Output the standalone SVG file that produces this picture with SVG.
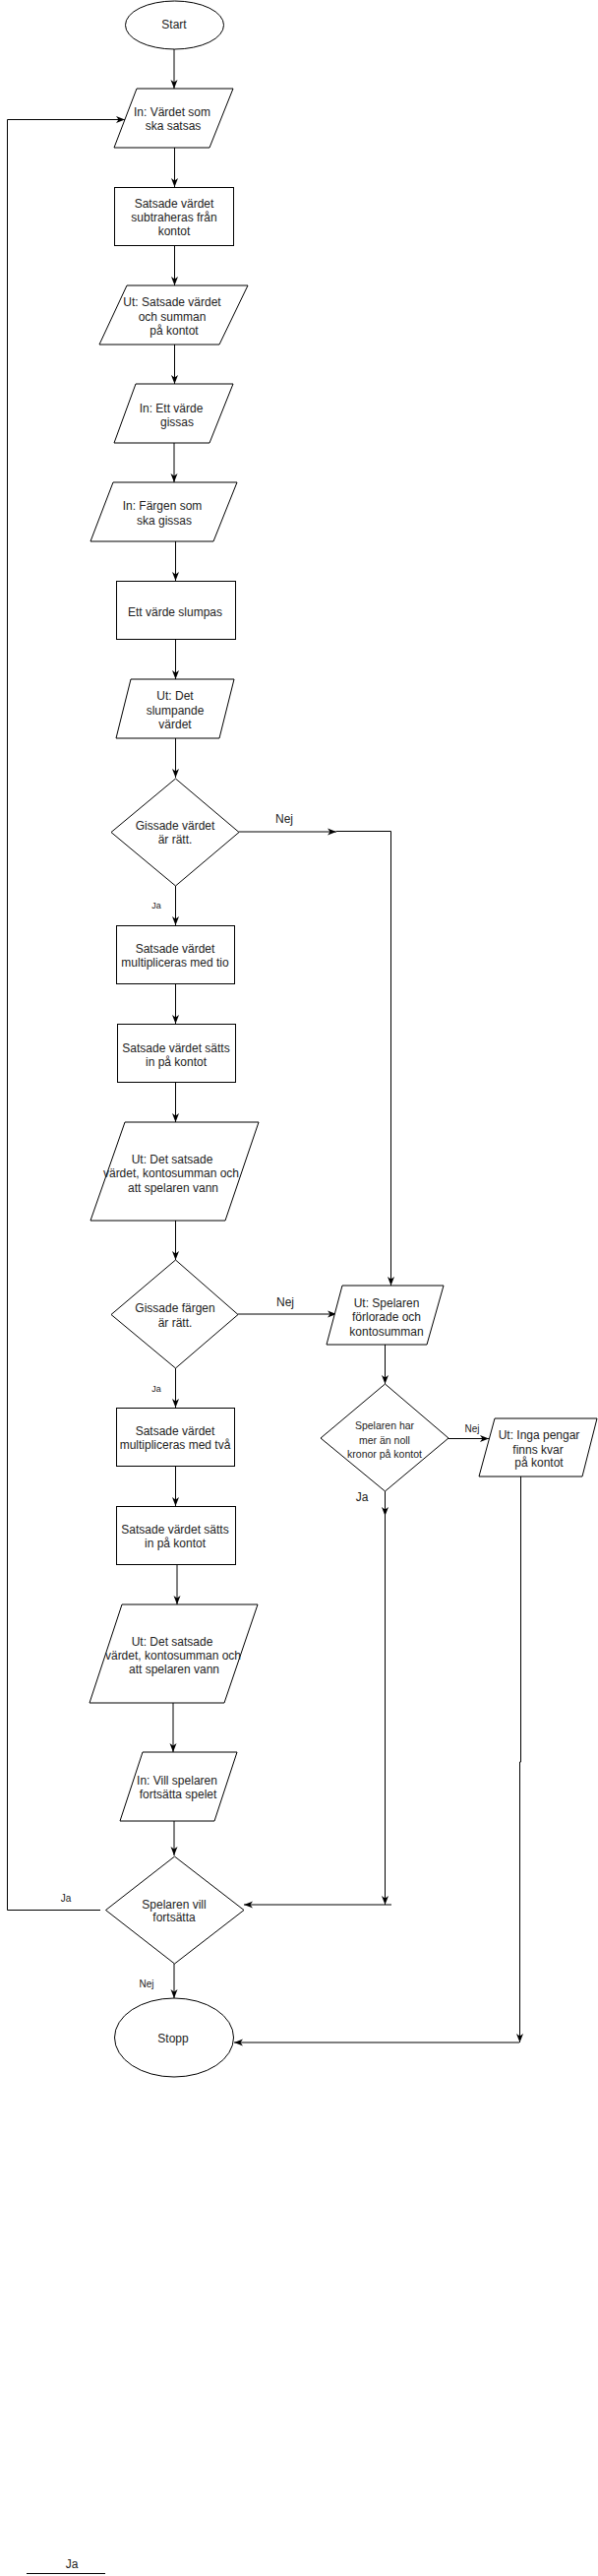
<svg xmlns="http://www.w3.org/2000/svg" width="608" height="2617" viewBox="0 0 608 2617">
<style>
.s{fill:#fff;stroke:#000;stroke-width:1}
.t{font-family:"Liberation Sans",Arial,sans-serif;font-size:12px;fill:#222;text-anchor:middle}
.sm{font-size:10.5px}
.c{fill:none;stroke:#000;stroke-width:1}
.l{font-family:"Liberation Sans",Arial,sans-serif;fill:#222;text-anchor:middle}
</style>
<defs>
<marker id="a" markerUnits="userSpaceOnUse" markerWidth="10" markerHeight="8" refX="9" refY="4" orient="auto">
<path d="M0,0.5 L9,4 L0,7.5 L2.5,4 Z" fill="#000"/>
</marker>
</defs>
<rect width="608" height="2617" fill="#fff"/>

<g id="connectors">
<path class="c" d="M177,50 V90" marker-end="url(#a)"/>
<path class="c" d="M177.5,150 V190" marker-end="url(#a)"/>
<path class="c" d="M177.5,250 V290" marker-end="url(#a)"/>
<path class="c" d="M177.5,350 V390" marker-end="url(#a)"/>
<path class="c" d="M177,450 V490" marker-end="url(#a)"/>
<path class="c" d="M178.5,550 V590" marker-end="url(#a)"/>
<path class="c" d="M178.5,650 V690" marker-end="url(#a)"/>
<path class="c" d="M178.5,750 V790" marker-end="url(#a)"/>
<path class="c" d="M243,845 H342" marker-end="url(#a)"/>
<path class="c" d="M342,844.5 H397.5 V1306" marker-end="url(#a)"/>
<path class="c" d="M178.5,900 V940" marker-end="url(#a)"/>
<path class="c" d="M178.5,1000 V1040" marker-end="url(#a)"/>
<path class="c" d="M178.5,1100 V1140" marker-end="url(#a)"/>
<path class="c" d="M178.5,1240 V1280" marker-end="url(#a)"/>
<path class="c" d="M242,1335 H342" marker-end="url(#a)"/>
<path class="c" d="M178.5,1390 V1430" marker-end="url(#a)"/>
<path class="c" d="M178.5,1490 V1530" marker-end="url(#a)"/>
<path class="c" d="M180,1590 V1630" marker-end="url(#a)"/>
<path class="c" d="M176,1730 V1780" marker-end="url(#a)"/>
<path class="c" d="M177,1850 V1885" marker-end="url(#a)"/>
<path class="c" d="M177,1995 V2030" marker-end="url(#a)"/>
<path class="c" d="M102,1940.5 H7.5 V121.5 H127" marker-end="url(#a)"/>
<path class="c" d="M391.5,1366 V1406" marker-end="url(#a)"/>
<path class="c" d="M456,1461.5 H497" marker-end="url(#a)"/>
<path class="c" d="M391.5,1515 V1540" marker-end="url(#a)"/>
<path class="c" d="M391.5,1540 V1935" marker-end="url(#a)"/>
<path class="c" d="M398,1935 H248" marker-end="url(#a)"/>
<path class="c" d="M529.5,1500 V1790 H528.5 V2075" marker-end="url(#a)"/>
<path class="c" d="M528,2075 H238" marker-end="url(#a)"/>
<path class="c" d="M27,2614.5 H107"/>
</g>

<g id="start"><ellipse class="s" cx="177.5" cy="25.5" rx="50" ry="24.5"/><text class="t" x="177" y="29">Start</text></g>

<g id="in-varde"><path class="s" d="M139,90 H237 L213,150 H116 Z"/><text class="t" x="175" y="118">In: Värdet som</text><text class="t" x="176" y="132">ska satsas</text></g>

<g id="subtraheras"><rect class="s" x="116.5" y="190.5" width="121" height="59"/><text class="t" x="177" y="211">Satsade värdet</text><text class="t" x="177" y="225">subtraheras från</text><text class="t" x="177" y="239">kontot</text></g>

<g id="ut-satsade"><path class="s" d="M129,290 H252 L223,350 H101 Z"/><text class="t" x="175" y="311">Ut: Satsade värdet</text><text class="t" x="175" y="326">och summan</text><text class="t" x="177" y="340">på kontot</text></g>

<g id="in-gissas"><path class="s" d="M138,390 H237 L213,450 H116 Z"/><text class="t" x="174" y="419">In: Ett värde</text><text class="t" x="180" y="433">gissas</text></g>

<g id="in-fargen"><path class="s" d="M115,490 H241 L217,550 H92 Z"/><text class="t" x="165" y="518">In: Färgen som</text><text class="t" x="167" y="533">ska gissas</text></g>

<g id="slumpas"><rect class="s" x="118.5" y="590.5" width="121" height="59"/><text class="t" x="178" y="626">Ett värde slumpas</text></g>

<g id="ut-slump"><path class="s" d="M133,690 H238 L223,750 H118 Z"/><text class="t" x="178" y="711">Ut: Det</text><text class="t" x="178" y="726">slumpande</text><text class="t" x="178" y="740">värdet</text></g>

<g id="d-vardet"><path class="s" d="M178.5,791 L243,845.5 L178.5,900 L113,845.5 Z"/><text class="t" x="178" y="843">Gissade värdet</text><text class="t" x="178" y="857">är rätt.</text></g>

<g id="mult-tio"><rect class="s" x="118.5" y="940.5" width="120" height="59"/><text class="t" x="178" y="968">Satsade värdet</text><text class="t" x="178" y="982">multipliceras med tio</text></g>

<g id="satts1"><rect class="s" x="119.5" y="1040.5" width="120" height="59"/><text class="t" x="179" y="1069">Satsade värdet sätts</text><text class="t" x="179" y="1083">in på kontot</text></g>

<g id="ut-vann1"><path class="s" d="M127,1140 H263 L229,1240 H92 Z"/><text class="t" x="175" y="1182">Ut: Det satsade</text><text class="t" x="174" y="1196">värdet, kontosumman och</text><text class="t" x="176" y="1211">att spelaren vann</text></g>

<g id="d-fargen"><path class="s" d="M178.5,1280 L242,1335.5 L178.5,1390 L113,1335.5 Z"/><text class="t" x="178" y="1333">Gissade färgen</text><text class="t" x="178" y="1348">är rätt.</text></g>

<g id="forlorade"><path class="s" d="M348,1306 H451 L434,1366 H332 Z"/><text class="t" x="393" y="1328">Ut: Spelaren</text><text class="t" x="393" y="1342">förlorade och</text><text class="t" x="393" y="1357">kontosumman</text></g>

<g id="d-noll"><path class="s" d="M391.5,1406 L456,1461 L391.5,1515 L326,1461 Z"/><text class="t sm" x="391" y="1452">Spelaren har</text><text class="t sm" x="391" y="1467">mer än noll</text><text class="t sm" x="391" y="1481">kronor på kontot</text></g>

<g id="inga-pengar"><path class="s" d="M503,1441 H607 L592,1500 H487 Z"/><text class="t" x="548" y="1462">Ut: Inga pengar</text><text class="t" x="547" y="1477">finns kvar</text><text class="t" x="548" y="1490">på kontot</text></g>

<g id="mult-tva"><rect class="s" x="118.5" y="1430.5" width="120" height="59"/><text class="t" x="178" y="1458">Satsade värdet</text><text class="t" x="178" y="1472">multipliceras med två</text></g>

<g id="satts2"><rect class="s" x="118.5" y="1530.5" width="121" height="59"/><text class="t" x="178" y="1558">Satsade värdet sätts</text><text class="t" x="178" y="1572">in på kontot</text></g>

<g id="ut-vann2"><path class="s" d="M124,1630 H262 L228,1730 H91 Z"/><text class="t" x="175" y="1672">Ut: Det satsade</text><text class="t" x="176" y="1686">värdet, kontosumman och</text><text class="t" x="177" y="1700">att spelaren vann</text></g>

<g id="in-fortsatta"><path class="s" d="M145,1780 H241 L218,1850 H122 Z"/><text class="t" x="180" y="1813">In: Vill spelaren</text><text class="t" x="181" y="1827">fortsätta spelet</text></g>

<g id="d-fortsatta"><path class="s" d="M177.5,1886 L248,1940.5 L177.5,1995 L107.5,1940.5 Z"/><text class="t" x="177" y="1939">Spelaren vill</text><text class="t" x="177" y="1952">fortsätta</text></g>

<g id="stopp"><ellipse class="s" cx="177" cy="2070" rx="60.5" ry="40"/><text class="t" x="176" y="2075">Stopp</text></g>

<g id="labels">
<text class="l" x="289" y="836" font-size="12">Nej</text>
<text class="l" x="159" y="923" font-size="9">Ja</text>
<text class="l" x="290" y="1327" font-size="12">Nej</text>
<text class="l" x="159" y="1414" font-size="9">Ja</text>
<text class="l" x="480" y="1455" font-size="10">Nej</text>
<text class="l" x="368" y="1525" font-size="12">Ja</text>
<text class="l" x="67" y="1932" font-size="10">Ja</text>
<text class="l" x="149" y="2019" font-size="10">Nej</text>
<text class="l" x="73" y="2609" font-size="12">Ja</text>
</g>
</svg>
